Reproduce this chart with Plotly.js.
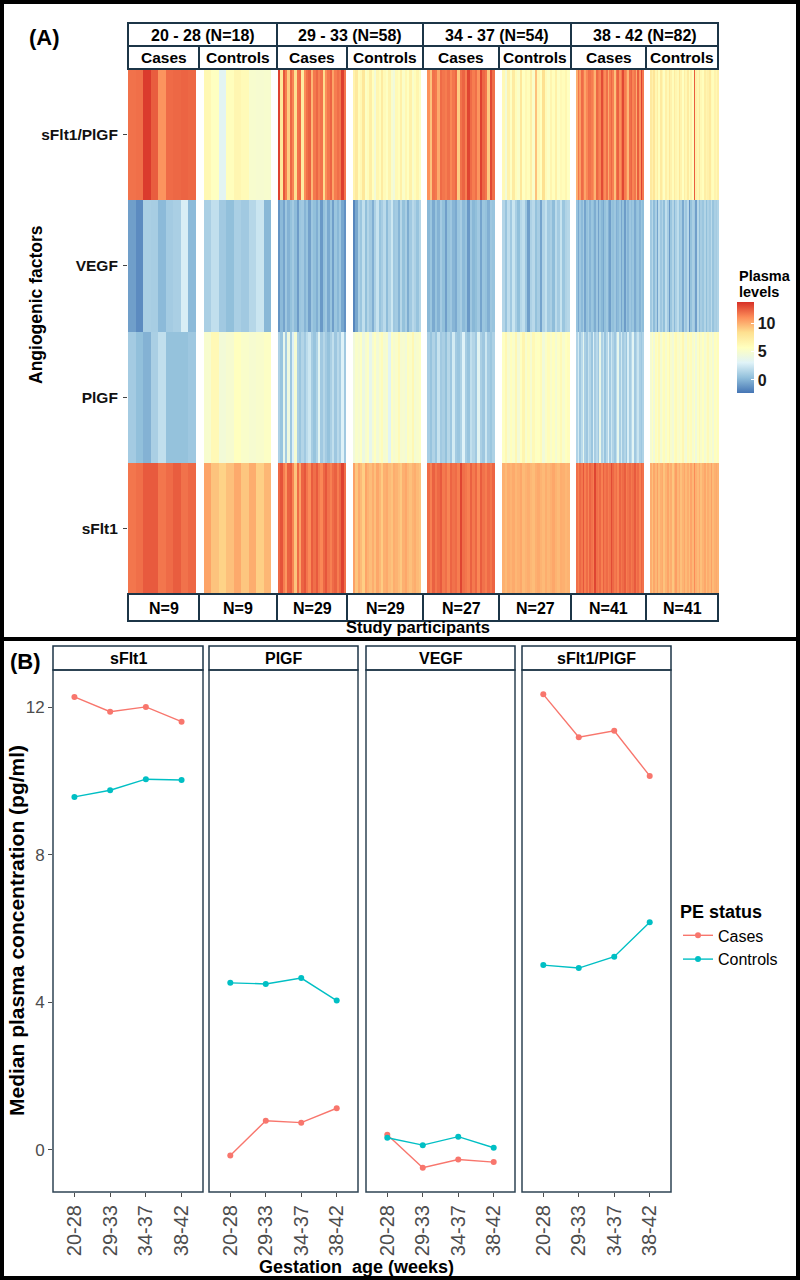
<!DOCTYPE html>
<html>
<head>
<meta charset="utf-8">
<script src="https://cdn.plot.ly/plotly-3.0.1.min.js"></script>
<style>html,body{margin:0;padding:0;background:#fff;}#chart{width:800px;height:1280px;}</style>
</head>
<body>
<div id="chart"></div>
<script>
// ---------------- DATA ----------------
const ageGroups = ['20 - 28 (N=18)', '29 - 33 (N=58)', '34 - 37 (N=54)', '38 - 42 (N=82)'];
const subGroups = ['Cases', 'Controls'];
const nLabels = ['N=9', 'N=9', 'N=29', 'N=29', 'N=27', 'N=27', 'N=41', 'N=41'];
const factors = ['sFlt1', 'PlGF', 'VEGF', 'sFlt1/PlGF']; // bottom to top

// Panel A: per-participant plasma levels (estimated from colours)
const ratio_g1_cases = [11.8, 11.9, 13.4, 12.4, 10.8, 12.0, 12.1, 12.2, 12.1];
const vegf_g1_cases = [-0.8, -1.5, 1.2, 1.1, 0.2, 1.0, 1.2, 2.8, 0.2];
const plgf_g1_cases = [1.0, 0.4, -0.1, 1.2, 2.0, 0.5, 0.5, 0.5, 0.8];
const sflt_g1_cases = [11.7, 11.9, 12.5, 12.5, 11.7, 12.0, 12.4, 11.8, 12.1];

const ratio_g1_ctrl = [6.3, 5.6, 3.3, 5.8, 6.5, 6.1, 5.0, 4.9, 5.0];
const vegf_g1_ctrl = [1.2, 2.0, 0.9, 0.4, 1.2, 0.9, 1.6, 2.3, 0.1];
const plgf_g1_ctrl = [5.0, 6.2, 4.6, 4.9, 5.7, 5.2, 4.9, 5.1, 5.4];
const sflt_g1_ctrl = [10.3, 9.3, 8.8, 9.4, 10.1, 9.2, 10.0, 8.9, 9.7];

const ratio_g2_cases = [13.2, 7.7, 12.6, 11.5, 9.0, 12.1, 11.3, 8.3, 11.8, 12.0, 7.4, 11.1, 11.9, 12.3, 9.7, 11.6, 12.1, 11.4, 11.8, 8.5, 11.0, 11.7, 12.2, 10.3, 11.5, 11.9, 11.6, 13.3, 11.7];
const vegf_g2_cases = [-1.2, 0.2, -0.6, 0.8, -0.1, 0.5, 1.0, 0.3, -0.9, 0.7, 0.9, 0.0, 0.6, -0.7, 0.8, 0.4, -0.2, 0.7, -1.0, 0.5, 0.9, -0.4, 0.6, -0.8, 0.7, 0.1, 0.8, -0.5, -1.3];
const plgf_g2_cases = [1.3, 0.6, 3.6, 1.0, 4.2, 0.8, 2.9, 4.8, 1.2, 0.7, 1.5, 0.9, 1.8, 2.4, 1.1, 0.6, 1.4, 3.3, 0.9, 1.6, 1.0, 0.5, 1.2, 2.0, 0.8, 1.7, 1.1, 3.0, 0.9];
const sflt_g2_cases = [12.1, 12.7, 11.5, 10.7, 12.3, 12.5, 11.3, 9.3, 12.0, 10.4, 12.2, 12.6, 11.7, 11.1, 12.4, 11.9, 12.5, 11.6, 11.2, 12.1, 12.6, 11.8, 11.4, 12.0, 12.3, 11.5, 12.1, 13.2, 11.9];

const ratio_g2_ctrl = [6.8, 7.6, 5.9, 6.3, 7.8, 5.4, 6.0, 7.2, 5.7, 4.6, 6.5, 5.9, 7.4, 6.1, 5.5, 6.7, 5.0, 4.4, 6.2, 5.8, 7.0, 5.3, 6.4, 5.6, 6.9, 5.2, 5.9, 6.6, 5.5];
const vegf_g2_ctrl = [-1.7, -0.5, 1.2, 0.7, 2.0, 0.4, 1.5, 0.9, -0.2, 1.3, 2.2, 0.6, 1.1, 1.8, 0.3, 1.4, 2.4, 0.8, 1.0, 0.0, 1.6, 0.5, 1.2, -0.3, 0.9, 1.7, 1.3, 0.6, 1.5];
const plgf_g2_ctrl = [4.4, 5.2, 4.8, 5.6, 4.1, 5.0, 5.4, 3.6, 4.9, 5.7, 4.6, 5.3, 6.0, 4.7, 5.1, 3.2, 5.5, 4.8, 5.2, 6.1, 4.9, 5.0, 4.5, 5.8, 5.3, 6.3, 4.7, 5.1, 5.4];
const sflt_g2_ctrl = [10.4, 9.2, 10.1, 9.6, 8.9, 10.3, 9.8, 9.5, 10.0, 9.4, 10.2, 9.7, 9.0, 9.9, 10.1, 9.6, 9.3, 10.0, 9.8, 9.5, 9.1, 9.9, 10.2, 9.7, 9.4, 9.8, 10.0, 9.6, 9.3];

const ratio_g3_cases = [10.9, 9.3, 11.8, 11.6, 10.1, 12.0, 11.7, 11.5, 11.9, 11.2, 11.7, 12.1, 9.0, 11.8, 12.2, 11.4, 13.1, 12.0, 11.5, 11.9, 10.8, 13.2, 12.1, 11.7, 9.1, 13.0, 11.9];
const vegf_g3_cases = [0.1, 0.7, -0.4, 0.6, -0.1, 1.0, 0.4, -0.8, 0.5, 0.8, 0.0, -0.4, 0.7, 1.1, 0.2, 0.6, -1.0, 0.8, 0.1, 0.4, 0.9, -0.6, 0.7, 0.5, -0.2, 0.8, 0.6];
const plgf_g3_cases = [1.1, 0.6, 1.4, 0.7, 2.2, 0.9, 1.2, 0.5, 1.6, 0.8, 2.6, 1.0, 0.7, 1.3, 3.0, 1.1, 0.6, 2.0, 1.5, 0.9, 3.3, 1.2, 0.8, 2.4, 1.0, 0.7, 1.3];
const sflt_g3_cases = [12.0, 11.4, 12.3, 11.7, 12.1, 12.5, 11.6, 11.9, 11.3, 12.2, 11.8, 12.0, 11.5, 13.1, 11.9, 11.7, 11.4, 12.3, 11.6, 12.1, 11.2, 12.4, 11.8, 11.5, 12.0, 11.7, 12.2];

const ratio_g3_ctrl = [6.2, 4.6, 6.8, 5.5, 7.4, 6.0, 5.3, 7.8, 5.6, 6.4, 5.9, 7.1, 5.2, 9.4, 6.3, 5.7, 8.3, 6.1, 5.4, 6.6, 5.8, 7.0, 5.5, 6.2, 5.9, 6.5, 5.6];
const vegf_g3_ctrl = [1.5, 0.6, 1.9, 0.9, 2.3, 1.2, 0.4, 1.6, 2.0, 0.8, -0.8, 1.3, 1.7, 0.5, 1.1, -0.6, 1.4, 2.1, 0.9, 1.2, 0.3, 1.8, 1.0, 2.2, 0.7, 1.4, 1.6];
const plgf_g3_ctrl = [5.5, 6.3, 4.9, 5.8, 5.2, 6.4, 4.6, 5.6, 6.6, 5.0, 5.9, 4.8, 6.2, 5.4, 5.7, 6.1, 4.5, 5.3, 6.0, 5.1, 5.8, 4.7, 5.5, 6.2, 5.0, 5.6, 5.9];
const sflt_g3_ctrl = [9.9, 9.6, 10.0, 9.8, 10.1, 9.7, 9.9, 10.2, 9.6, 9.8, 10.0, 9.7, 9.5, 9.9, 10.1, 9.8, 9.6, 10.0, 9.7, 9.9, 10.2, 9.8, 9.6, 10.0, 9.9, 9.7, 9.8];

const ratio_g4_cases = [9.9, 11.7, 10.5, 12.0, 11.6, 10.3, 11.2, 11.9, 11.8, 11.5, 11.0, 9.8, 12.1, 11.6, 11.3, 12.9, 11.7, 11.1, 11.9, 10.1, 11.5, 12.1, 11.4, 9.4, 11.8, 12.3, 10.9, 11.6, 13.0, 11.5, 11.1, 9.7, 11.9, 12.2, 11.3, 11.7, 10.0, 12.4, 10.8, 13.2, 11.6];
const vegf_g4_cases = [0.6, -0.4, 0.8, 0.2, 1.0, -0.6, 0.5, 0.9, 0.0, 0.7, 0.4, -0.3, 0.8, -0.7, 0.6, 0.1, -0.5, 0.5, 0.9, -0.1, -0.8, 0.6, 0.4, 0.8, -0.2, 0.2, 0.7, -0.5, 0.5, -0.9, 0.6, 0.0, 0.8, 0.3, 0.7, -0.4, 0.4, 0.6, -0.1, 0.7, 0.3];
const plgf_g4_cases = [1.4, 2.6, 0.9, 1.8, 3.4, 1.2, 0.8, 2.2, 1.5, 0.7, 2.9, 1.1, 1.7, 0.9, 3.8, 1.3, 2.1, 0.6, 1.6, 3.1, 1.0, 2.4, 1.4, 0.8, 1.9, 3.6, 1.2, 2.5, 1.0, 1.5, 0.7, 2.8, 1.1, 1.8, 3.2, 0.9, 1.5, 2.3, 1.2, 0.8, 1.4];
const sflt_g4_cases = [11.9, 11.4, 12.1, 11.7, 12.6, 11.5, 12.0, 11.3, 12.2, 11.8, 11.5, 13.1, 11.9, 11.6, 12.1, 11.4, 12.3, 11.7, 12.0, 11.5, 11.8, 12.9, 12.1, 11.6, 11.9, 11.3, 12.2, 11.7, 12.0, 12.4, 11.5, 11.8, 12.1, 11.6, 11.9, 12.5, 11.7, 12.0, 11.4, 12.2, 11.8];

const ratio_g4_ctrl = [7.6, 6.9, 7.9, 6.4, 7.2, 5.8, 7.5, 6.6, 5.5, 7.0, 6.2, 7.7, 6.8, 5.9, 7.3, 6.5, 6.1, 7.8, 6.7, 5.6, 7.1, 6.3, 7.4, 6.0, 6.8, 5.7, 12.4, 7.0, 6.4, 7.6, 6.2, 5.8, 7.2, 6.6, 6.9, 7.5, 6.1, 5.9, 6.7, 6.3, 7.0];
const vegf_g4_ctrl = [0.9, 1.6, 0.3, 1.2, -0.6, 1.8, 0.8, 1.4, 0.4, 2.0, 1.1, -1.0, 0.7, 1.5, 0.2, 1.3, 1.9, 0.6, 1.0, -0.4, 1.4, 0.8, 1.7, -1.2, 0.5, 1.2, 0.9, -0.8, 1.6, 0.3, 1.1, 0.7, 1.5, 0.4, 1.3, 0.9, 1.8, 0.6, 1.2, 1.0, 1.4];
const plgf_g4_ctrl = [4.8, 5.6, 4.4, 5.9, 5.2, 6.2, 4.7, 5.4, 6.0, 4.9, 5.7, 6.3, 5.1, 4.6, 5.8, 6.1, 5.3, 4.9, 5.5, 6.4, 5.0, 4.5, 5.9, 5.2, 6.0, 4.8, 5.6, 4.3, 5.4, 6.2, 5.1, 5.7, 4.7, 5.3, 6.1, 5.0, 5.5, 4.6, 5.8, 5.2, 5.9];
const sflt_g4_ctrl = [10.0, 9.4, 10.2, 9.7, 10.4, 9.5, 9.9, 10.1, 9.3, 9.8, 10.3, 9.6, 10.0, 9.2, 9.9, 10.5, 9.7, 10.1, 9.4, 9.8, 10.2, 9.6, 10.0, 9.5, 10.3, 9.7, 11.1, 9.9, 9.6, 10.1, 9.4, 9.8, 10.2, 9.5, 10.0, 9.7, 10.4, 9.6, 9.9, 10.1, 9.8];

// Panel B: medians
const gestLabels = ['20-28', '29-33', '34-37', '38-42'];
const facetNames = ['sFlt1', 'PlGF', 'VEGF', 'sFlt1/PlGF'];
const sflt1Cases = [12.28, 11.88, 12.01, 11.61];
const sflt1Controls = [9.57, 9.75, 10.05, 10.03];
const plgfCases = [-0.15, 0.79, 0.74, 1.13];
const plgfControls = [4.53, 4.50, 4.66, 4.05];
const vegfCases = [0.41, -0.48, -0.26, -0.33];
const vegfControls = [0.33, 0.13, 0.36, 0.06];
const ratioCases = [12.35, 11.19, 11.36, 10.14];
const ratioControls = [5.01, 4.93, 5.24, 6.17];

// ---------------- BUILD ----------------
const W = 800, H = 1280;
const px = v => v / W;
const py = v => 1 - v / H;
const FONT = 'Liberation Sans, Arial, sans-serif';
const NAVY = '#1c3547';

const panels = [
  [sflt_g1_cases, plgf_g1_cases, vegf_g1_cases, ratio_g1_cases],
  [sflt_g1_ctrl, plgf_g1_ctrl, vegf_g1_ctrl, ratio_g1_ctrl],
  [sflt_g2_cases, plgf_g2_cases, vegf_g2_cases, ratio_g2_cases],
  [sflt_g2_ctrl, plgf_g2_ctrl, vegf_g2_ctrl, ratio_g2_ctrl],
  [sflt_g3_cases, plgf_g3_cases, vegf_g3_cases, ratio_g3_cases],
  [sflt_g3_ctrl, plgf_g3_ctrl, vegf_g3_ctrl, ratio_g3_ctrl],
  [sflt_g4_cases, plgf_g4_cases, vegf_g4_cases, ratio_g4_cases],
  [sflt_g4_ctrl, plgf_g4_ctrl, vegf_g4_ctrl, ratio_g4_ctrl]
];
const heatX = [[128,196],[204,271],[278,346],[353,421],[427,495],[502,570],[576,644],[650,719]];
const stripB = [128,199,277,347,423,499,571,646,718];
const heatTop = 69, heatBot = 594;

const data = [];
const layout = {
  width: W, height: H,
  margin: {l:0, r:0, t:0, b:0},
  paper_bgcolor: '#fff', plot_bgcolor: '#fff',
  font: {family: FONT, color: '#000'},
  showlegend: true,
  shapes: [], annotations: [],
  coloraxis: {
    colorscale: [[0,'#4575B4'],[1/6,'#91BFDB'],[2/6,'#E0F3F8'],[3/6,'#FFFFBF'],[4/6,'#FEE090'],[5/6,'#FC8D59'],[1,'#D73027']],
    cmin: -2.3, cmax: 13.7,
    colorbar: {
      x: px(737), xanchor: 'left', xpad: 0,
      y: py(347.5), yanchor: 'middle', ypad: 0,
      lenmode: 'pixels', len: 91, thickness: 17,
      outlinewidth: 0,
      tickvals: [0,5,10], ticks: 'inside', ticklen: 3, tickcolor: '#fff',
      tickfont: {size: 16, family: FONT, color: '#1a1a1a', weight: 'bold'}
    }
  }
};

panels.forEach((rows, i) => {
  const ax = i === 0 ? '' : String(i + 1);
  data.push({
    type: 'heatmap', z: rows, y: factors,
    xaxis: 'x' + ax, yaxis: 'y', coloraxis: 'coloraxis',
    hoverinfo: 'skip', showlegend: false
  });
  layout['xaxis' + ax] = {
    domain: [px(heatX[i][0]), px(heatX[i][1])], anchor: 'y',
    range: [-0.5, rows[0].length - 0.5],
    showticklabels: false, showgrid: false, zeroline: false, ticks: '', showline: false, fixedrange: true
  };
});
layout.yaxis = {
  domain: [py(heatBot), py(heatTop)], anchor: 'x', type: 'category',
  categoryorder: 'array', categoryarray: factors,
  ticks: 'outside', ticklen: 4, tickcolor: '#444', ticklabelstandoff: 2,
  tickfont: {size: 15.5, family: FONT, color: '#111', weight: 'bold'},
  showgrid: false, zeroline: false, showline: false
};

function box(x0, x1, y0, y1, w) {
  layout.shapes.push({type:'rect', xref:'paper', yref:'paper', x0:px(x0), x1:px(x1), y0:py(y1), y1:py(y0),
    line:{color:NAVY, width:w||2}, fillcolor:'rgba(0,0,0,0)', layer:'above'});
}
function label(text, x, y, size, opts) {
  layout.annotations.push(Object.assign({text: text, xref:'paper', yref:'paper', x:px(x), y:py(y),
    showarrow:false, xanchor:'center', yanchor:'middle',
    font:{size:size, family:FONT, color:'#000', weight:'bold'}}, opts || {}));
}
ageGroups.forEach((g, k) => {
  const x0 = stripB[2*k], x1 = stripB[2*k+2];
  box(x0, x1, 23, 46);
  label(g, (x0+x1)/2, 35, 16);
});
for (let i = 0; i < 8; i++) {
  const x0 = stripB[i], x1 = stripB[i+1];
  box(x0, x1, 46, 69);
  label(subGroups[i % 2], (x0+x1)/2, 58, 15.5);
  box(x0, x1, 594, 621);
  label(nLabels[i], (x0+x1)/2, 608, 16);
}
label('Study participants', 418, 627, 16.5);
label('Angiogenic factors', 36, 305, 17.5, {textangle:-90});
label('Plasma', 737, 276, 14.5, {xanchor:'left'});
label('levels', 737, 292, 14.5, {xanchor:'left'});
label('(A)', 44, 38, 22);
label('(B)', 25, 661, 22);

// Panel B
const facetX = [[53,203],[209,358],[366,515],[522,671]];
const bTop = 670, bBot = 1192;
const series = [
  [sflt1Cases, sflt1Controls],
  [plgfCases, plgfControls],
  [vegfCases, vegfControls],
  [ratioCases, ratioControls]
];
const seriesNames = ['Cases', 'Controls'];
const seriesColors = ['#F8766D', '#00BFC4'];
series.forEach((pair, f) => {
  const ax = String(9 + f);
  pair.forEach((vals, s) => {
    data.push({
      type: 'scatter', mode: 'lines+markers', x: gestLabels, y: vals,
      xaxis: 'x' + ax, yaxis: 'y2', name: seriesNames[s], legendgroup: seriesNames[s],
      showlegend: f === 0,
      line: {color: seriesColors[s], width: 1.4},
      marker: {color: seriesColors[s], size: 6}
    });
  });
  layout['xaxis' + ax] = {
    domain: [px(facetX[f][0]), px(facetX[f][1])], anchor: 'y2',
    type: 'category', categoryorder: 'array', categoryarray: gestLabels,
    range: [-0.6, 3.6], tickangle: -90,
    tickfont: {size: 20, family: FONT, color: '#4D4D4D'},
    ticks: 'outside', ticklen: 4, tickcolor: '#4D4D4D', ticklabelstandoff: 0,
    showgrid: false, zeroline: false, showline: false
  };
  layout.shapes.push({type:'rect', xref:'paper', yref:'paper', x0:px(facetX[f][0]), x1:px(facetX[f][1]),
    y0:py(bBot), y1:py(bTop), line:{color:'#2f4454', width:1.5}, layer:'above'});
  box(facetX[f][0], facetX[f][1], 646, 670, 1.5);
  label(facetNames[f], (facetX[f][0]+facetX[f][1])/2, 658, 16);
});
layout.yaxis2 = {
  domain: [py(bBot), py(bTop)], anchor: 'x9',
  range: [-1.14, 13.01], tickvals: [0,4,8,12],
  ticks: 'outside', ticklen: 4, tickcolor: '#4D4D4D',
  tickfont: {size: 17, family: FONT, color: '#4D4D4D'},
  showgrid: false, zeroline: false, showline: false
};
label('Median plasma concentration (pg/ml)', 16, 931, 21, {textangle:-90});
label('Gestation&nbsp; age (weeks)', 356, 1267, 18);

layout.legend = {
  x: px(678), y: py(895), xanchor: 'left', yanchor: 'top',
  title: {text: 'PE status', font: {size: 18, family: FONT, color: '#000', weight: 'bold'}},
  font: {size: 16, family: FONT, color: '#000'},
  itemwidth: 30, bgcolor: 'rgba(0,0,0,0)', tracegroupgap: 0
};

layout.shapes.push({type:'rect', xref:'paper', yref:'paper', x0:px(2), x1:px(798), y0:py(1278), y1:py(2),
  line:{color:'#000', width:4}, layer:'above'});
layout.shapes.push({type:'line', xref:'paper', yref:'paper', x0:0, x1:1, y0:py(639), y1:py(639),
  line:{color:'#000', width:4}, layer:'above'});

Plotly.newPlot('chart', data, layout, {displayModeBar: false, staticPlot: true});
</script>
</body>
</html>
